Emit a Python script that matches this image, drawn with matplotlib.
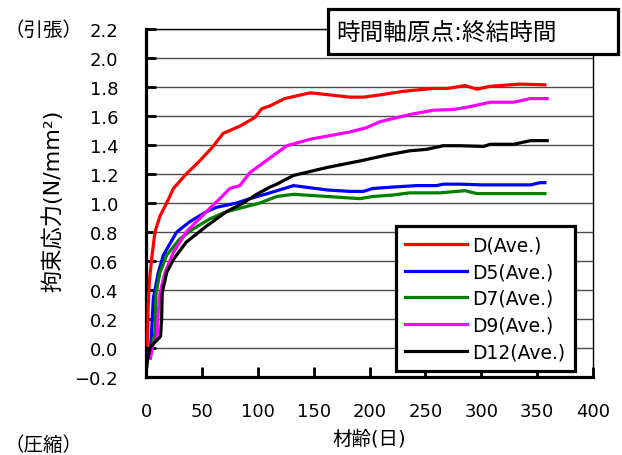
import matplotlib
matplotlib.use('Agg')
import matplotlib.pyplot as plt
from matplotlib.patches import Rectangle

plt.rcParams['font.family'] = ['DejaVu Sans', 'Noto Sans CJK JP']

# 材齢(日) / 拘束応力
d_x = [1, 1.5, 2, 3, 5, 8, 12.5, 18.5, 24.5, 36, 48, 60, 69, 84, 97.5, 103.5, 111, 124, 147, 165,
       182.5, 194.5, 209, 230, 257, 270, 285.5, 296, 308, 334.7, 357]
d_y = [0.02, 0.1, 0.3, 0.46, 0.61, 0.80, 0.91, 1.0, 1.10, 1.2, 1.29, 1.39, 1.48, 1.53, 1.59, 1.65, 1.67, 1.72, 1.76, 1.745,
       1.73, 1.73, 1.745, 1.77, 1.79, 1.79, 1.81, 1.785, 1.805, 1.82, 1.815]

d5_x = [2, 4, 5, 6.5, 11, 15.5, 27.5, 39, 54, 63, 81, 93, 111, 132, 162, 182.5, 194.5, 203, 221, 242,
        260, 266, 281, 300, 344, 352.5, 357]
d5_y = [-0.04, 0.0, 0.1, 0.34, 0.52, 0.64, 0.80, 0.87, 0.94, 0.97, 1.0, 1.03, 1.07, 1.12, 1.09, 1.08, 1.08, 1.10, 1.11, 1.12,
        1.12, 1.13, 1.13, 1.125, 1.125, 1.14, 1.14]

d7_x = [3, 5, 8, 9, 12.5, 18.5, 30, 42, 57, 72, 87, 102, 117, 132, 162, 191.5, 203, 221, 236, 263,
        285.5, 296, 357]
d7_y = [-0.05, 0.0, 0.1, 0.38, 0.52, 0.64, 0.75, 0.82, 0.89, 0.94, 0.97, 1.0, 1.045, 1.06, 1.045, 1.03, 1.045, 1.055, 1.07, 1.07,
        1.085, 1.065, 1.065]

d9_x = [4, 6, 10, 11, 12.5, 17, 24.5, 36, 54, 66, 75, 84, 93, 102, 109, 126, 147, 182.5, 197.5, 209,
        236, 257, 275, 287, 308, 329, 344, 359]
d9_y = [-0.07, 0.02, 0.08, 0.25, 0.38, 0.52, 0.66, 0.80, 0.94, 1.03, 1.10, 1.12, 1.21, 1.26, 1.30, 1.395, 1.44, 1.49, 1.52, 1.56,
        1.61, 1.64, 1.645, 1.66, 1.695, 1.695, 1.72, 1.72]

d12_x = [0.5, 1.5, 3.5, 8, 13, 14, 14.5, 18.5, 24.5, 36, 54, 72, 87, 99, 111, 117, 132, 162, 191.5, 215,
         236, 251, 266, 281, 302, 308, 329, 344, 359]
d12_y = [-0.14, -0.08, 0.0, 0.04, 0.08, 0.2, 0.38, 0.52, 0.61, 0.73, 0.84, 0.94, 1.0, 1.06, 1.11, 1.13, 1.19, 1.245, 1.29, 1.33,
         1.36, 1.37, 1.395, 1.395, 1.39, 1.405, 1.405, 1.43, 1.43]

y_ticks = [-0.2, 0.0, 0.2, 0.4, 0.6, 0.8, 1.0, 1.2, 1.4, 1.6, 1.8, 2.0, 2.2]
x_ticks = [0, 50, 100, 150, 200, 250, 300, 350, 400]

fig = plt.figure(figsize=(6.22, 4.56), dpi=100)
ax = fig.add_axes([146/622, 1-378/456, 447/622, 348/456])

ax.plot(d_x, d_y, color='red', lw=2.3, label='D(Ave.)', zorder=3)
ax.plot(d5_x, d5_y, color='blue', lw=2.3, label='D5(Ave.)', zorder=3)
ax.plot(d7_x, d7_y, color='green', lw=2.3, label='D7(Ave.)', zorder=3)
ax.plot(d9_x, d9_y, color='magenta', lw=2.3, label='D9(Ave.)', zorder=3)
ax.plot(d12_x, d12_y, color='black', lw=2.3, label='D12(Ave.)', zorder=3)

ax.set_xlim(0, 400)
ax.set_ylim(-0.2, 2.2)
ax.set_xticks(x_ticks)
ax.set_yticks(y_ticks)
ax.set_yticklabels([('%.1f' % v).replace('-', '\u2212') for v in y_ticks])
ax.yaxis.grid(True, color='0.3', lw=1)
ax.set_axisbelow(True)

ax.spines['left'].set_linewidth(2.3)
ax.spines['bottom'].set_linewidth(2.3)
ax.spines['top'].set_linewidth(1)
ax.spines['right'].set_linewidth(1)
ax.tick_params(axis='both', direction='in', length=7, width=2, labelsize=13, color='black')
ax.tick_params(axis='y', pad=20)
ax.tick_params(axis='x', pad=18)

ax.set_xlabel('材齢(日)', fontsize=14, labelpad=6)
ax.set_ylabel('拘束応力(N/mm²)', fontsize=16)
ax.yaxis.set_label_coords(-0.185, 0.51)

leg = ax.legend(loc='lower right', bbox_to_anchor=(0.96, 0.017), fontsize=13.5, frameon=True,
                fancybox=False, framealpha=1, edgecolor='black', handlelength=3.3,
                labelspacing=0.42, borderpad=0.5, handletextpad=0.3, borderaxespad=0)
leg.get_frame().set_linewidth(2.3)
leg.set_zorder(5)

fig.text(4/622, 1-30/456, '（引張）', fontsize=14, va='center', ha='left', family=['Noto Sans CJK JP'])
fig.text(4/622, 1-445/456, '（圧縮）', fontsize=14, va='center', ha='left', family=['Noto Sans CJK JP'])

fig.add_artist(Rectangle((328/622, 1-55/456), 290/622, 45/456, transform=fig.transFigure,
                         facecolor='white', edgecolor='black', lw=2.3, zorder=6))
fig.text(336/622, 1-32.5/456, '時間軸原点:終結時間', fontsize=17, va='center', ha='left', zorder=7)

fig.savefig('out.png', dpi=100)
